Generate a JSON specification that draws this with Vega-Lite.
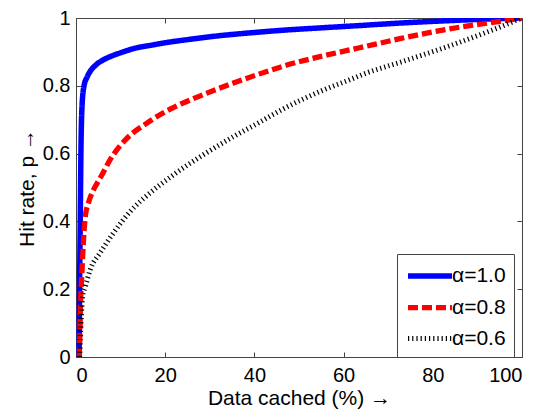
{
  "$schema": "https://vega.github.io/schema/vega-lite/v6.json",
  "width": 446,
  "height": 339,
  "autosize": "none",
  "padding": {"left": 76, "top": 18, "right": 22, "bottom": 52},
  "background": "white",
  "config": {
    "view": {"stroke": "#444", "strokeWidth": 1},
    "font": "Liberation Sans",
    "axis": {
      "domain": false, "grid": false, "tickColor": "#444", "tickSize": -5,
      "labelFontSize": 20, "titleFontSize": 21, "labelColor": "black", "titleColor": "black",
      "titleFontWeight": "normal", "labelFont": "Liberation Sans", "titleFont": "Liberation Sans"
    },
    "legend": {
      "labelFont": "Liberation Sans", "labelColor": "black",
      "orient": "none", "legendX": 321, "legendY": 236, "title": null,
      "symbolType": "M-2,0H2", "symbolSize": 484, "labelFontSize": 21,
      "strokeColor": "#444", "fillColor": "white", "padding": 8, "rowPadding": 6.5,
      "symbolOffset": 11, "labelOffset": 8
    }
  },
  "data": {
    "values": [
      {"series": "α=1.0", "x": 0.7, "y": 0},
      {"series": "α=1.0", "x": 0.8, "y": 0.2},
      {"series": "α=1.0", "x": 0.95, "y": 0.4},
      {"series": "α=1.0", "x": 1.1, "y": 0.6},
      {"series": "α=1.0", "x": 1.35, "y": 0.74},
      {"series": "α=1.0", "x": 1.8, "y": 0.8},
      {"series": "α=1.0", "x": 2.5, "y": 0.826},
      {"series": "α=1.0", "x": 3.2, "y": 0.843},
      {"series": "α=1.0", "x": 4.5, "y": 0.862},
      {"series": "α=1.0", "x": 6.2, "y": 0.877},
      {"series": "α=1.0", "x": 8, "y": 0.888},
      {"series": "α=1.0", "x": 9.9, "y": 0.897},
      {"series": "α=1.0", "x": 13, "y": 0.91},
      {"series": "α=1.0", "x": 17.4, "y": 0.921},
      {"series": "α=1.0", "x": 21, "y": 0.929},
      {"series": "α=1.0", "x": 24.9, "y": 0.936},
      {"series": "α=1.0", "x": 31.6, "y": 0.947},
      {"series": "α=1.0", "x": 38, "y": 0.955},
      {"series": "α=1.0", "x": 46.5, "y": 0.964},
      {"series": "α=1.0", "x": 55, "y": 0.971},
      {"series": "α=1.0", "x": 61.4, "y": 0.976},
      {"series": "α=1.0", "x": 72.6, "y": 0.985},
      {"series": "α=1.0", "x": 85, "y": 0.993},
      {"series": "α=1.0", "x": 95, "y": 0.998},
      {"series": "α=1.0", "x": 100, "y": 1},
      {"series": "α=0.8", "x": 0.75, "y": 0},
      {"series": "α=0.8", "x": 0.9, "y": 0.08},
      {"series": "α=0.8", "x": 1.05, "y": 0.17},
      {"series": "α=0.8", "x": 1.3, "y": 0.24},
      {"series": "α=0.8", "x": 1.6, "y": 0.325},
      {"series": "α=0.8", "x": 2.1, "y": 0.415},
      {"series": "α=0.8", "x": 2.8, "y": 0.455},
      {"series": "α=0.8", "x": 3.6, "y": 0.484},
      {"series": "α=0.8", "x": 4.7, "y": 0.512},
      {"series": "α=0.8", "x": 5.8, "y": 0.537},
      {"series": "α=0.8", "x": 7.7, "y": 0.583},
      {"series": "α=0.8", "x": 9.5, "y": 0.617},
      {"series": "α=0.8", "x": 11.4, "y": 0.645},
      {"series": "α=0.8", "x": 15.9, "y": 0.69},
      {"series": "α=0.8", "x": 21.1, "y": 0.731},
      {"series": "α=0.8", "x": 26.3, "y": 0.762},
      {"series": "α=0.8", "x": 31.6, "y": 0.79},
      {"series": "α=0.8", "x": 35.3, "y": 0.808},
      {"series": "α=0.8", "x": 40, "y": 0.83},
      {"series": "α=0.8", "x": 46.5, "y": 0.858},
      {"series": "α=0.8", "x": 55, "y": 0.887},
      {"series": "α=0.8", "x": 61.4, "y": 0.906},
      {"series": "α=0.8", "x": 65.2, "y": 0.917},
      {"series": "α=0.8", "x": 72.6, "y": 0.939},
      {"series": "α=0.8", "x": 83.8, "y": 0.968},
      {"series": "α=0.8", "x": 95, "y": 0.99},
      {"series": "α=0.8", "x": 100, "y": 1},
      {"series": "α=0.6", "x": 0.8, "y": 0},
      {"series": "α=0.6", "x": 1.0, "y": 0.06},
      {"series": "α=0.6", "x": 1.2, "y": 0.12},
      {"series": "α=0.6", "x": 1.45, "y": 0.175},
      {"series": "α=0.6", "x": 2.1, "y": 0.208},
      {"series": "α=0.6", "x": 3.2, "y": 0.258},
      {"series": "α=0.6", "x": 5.4, "y": 0.307},
      {"series": "α=0.6", "x": 8.4, "y": 0.366},
      {"series": "α=0.6", "x": 12.2, "y": 0.43},
      {"series": "α=0.6", "x": 16.6, "y": 0.484},
      {"series": "α=0.6", "x": 21.9, "y": 0.538},
      {"series": "α=0.6", "x": 28.6, "y": 0.597},
      {"series": "α=0.6", "x": 35.3, "y": 0.65},
      {"series": "α=0.6", "x": 40, "y": 0.684},
      {"series": "α=0.6", "x": 46.5, "y": 0.732},
      {"series": "α=0.6", "x": 55, "y": 0.785},
      {"series": "α=0.6", "x": 61.4, "y": 0.818},
      {"series": "α=0.6", "x": 65.2, "y": 0.838},
      {"series": "α=0.6", "x": 72.6, "y": 0.869},
      {"series": "α=0.6", "x": 83.8, "y": 0.918},
      {"series": "α=0.6", "x": 95, "y": 0.973},
      {"series": "α=0.6", "x": 100, "y": 1}
    ]
  },
  "layer": [
    {
      "mark": {"type": "line", "interpolate": "monotone", "strokeCap": "butt", "clip": true},
      "encoding": {
        "x": {
          "field": "x", "type": "quantitative",
          "scale": {"domain": [0, 100], "nice": false},
          "axis": {"values": [0, 20, 40, 60, 80, 100], "title": "Data cached (%) →", "labelPadding": 13, "titlePadding": 2}
        },
        "y": {
          "field": "y", "type": "quantitative",
          "scale": {"domain": [0, 1], "nice": false},
          "axis": {"values": [0, 0.2, 0.4, 0.6, 0.8, 1], "labelExpr": "toString(datum.value)", "title": "Hit rate, p →", "labelPadding": 11, "titlePadding": 5}
        },
        "color": {
          "field": "series", "type": "nominal",
          "scale": {"domain": ["α=1.0", "α=0.8", "α=0.6"], "range": ["#0000ff", "#ff0000", "#000000"]}
        },
        "strokeDash": {
          "field": "series", "type": "nominal",
          "scale": {"domain": ["α=1.0", "α=0.8", "α=0.6"], "range": [[1, 0], [10, 4], [1.2, 3]]}
        },
        "strokeWidth": {
          "field": "series", "type": "nominal",
          "scale": {"domain": ["α=1.0", "α=0.8", "α=0.6"], "range": [5.5, 5, 4.5]}
        }
      }
    },
    {
      "mark": {"type": "line", "opacity": 0},
      "encoding": {
        "x": {
          "field": "x", "type": "quantitative",
          "scale": {"domain": [0, 100], "nice": false},
          "axis": {"orient": "top", "values": [0, 20, 40, 60, 80, 100], "labels": false, "title": null}
        },
        "y": {
          "field": "y", "type": "quantitative",
          "scale": {"domain": [0, 1], "nice": false},
          "axis": {"orient": "right", "values": [0, 0.2, 0.4, 0.6, 0.8, 1], "labels": false, "title": null}
        }
      }
    }
  ],
  "resolve": {"axis": {"x": "independent", "y": "independent"}}
}
